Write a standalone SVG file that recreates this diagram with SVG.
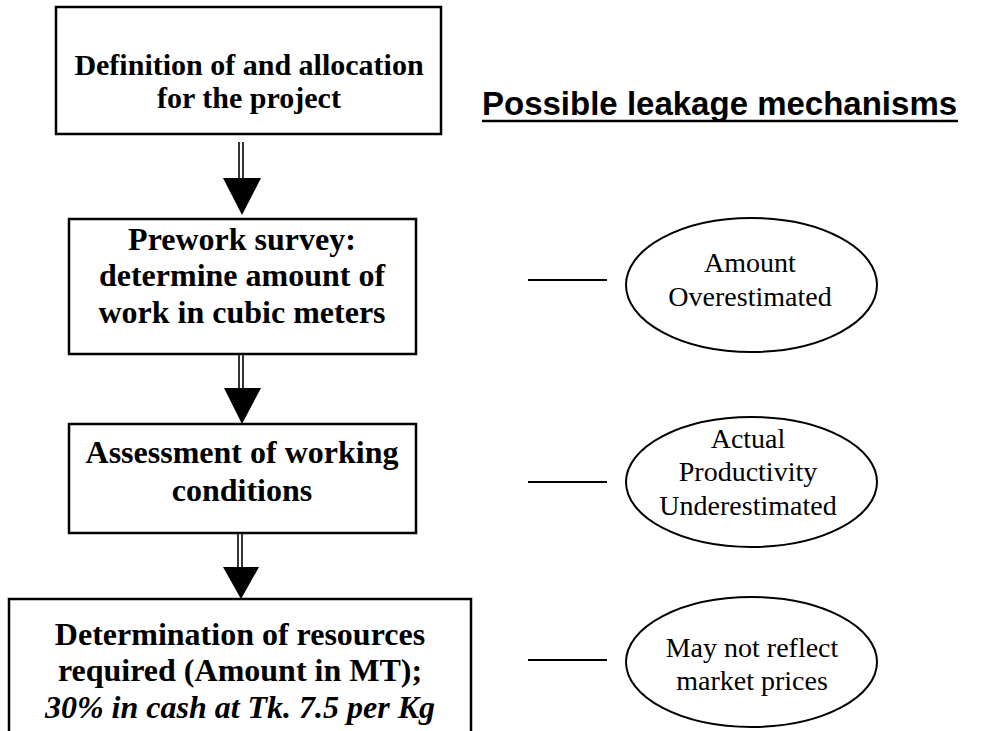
<svg xmlns="http://www.w3.org/2000/svg" width="986" height="731" viewBox="0 0 986 731">
<style>
.box{fill:#fff;stroke:#000;stroke-width:2.5}
.ell{fill:#fff;stroke:#000;stroke-width:2}
.bt{font-family:"Liberation Serif","Times New Roman",serif;font-weight:bold;font-size:32px;text-anchor:middle;fill:#000}
.et{font-family:"Liberation Serif","Times New Roman",serif;font-size:28px;text-anchor:middle;fill:#000}
.ln{stroke:#000;stroke-width:2;fill:none}
.shaft{stroke:#000;stroke-width:1.6;fill:none}
</style>
<rect width="986" height="731" fill="#fff"/>
<g id="connectors">
<line class="shaft" x1="239" y1="142" x2="239" y2="180"/>
<line class="shaft" x1="243" y1="142" x2="243" y2="180"/>
<polygon points="223,178 261,178 242,215" fill="#000"/>
<line class="shaft" x1="239" y1="346" x2="239" y2="390"/>
<line class="shaft" x1="243" y1="346" x2="243" y2="390"/>
<polygon points="224,388 261,388 242,424" fill="#000"/>
<line class="shaft" x1="238" y1="530" x2="238" y2="569"/>
<line class="shaft" x1="242" y1="530" x2="242" y2="569"/>
<polygon points="223,567 259,567 241,599" fill="#000"/>
<line class="ln" x1="528" y1="280" x2="607" y2="280"/>
<line class="ln" x1="528" y1="482" x2="607" y2="482"/>
<line class="ln" x1="528" y1="660" x2="607" y2="660"/>
</g>
<g id="n1">
<rect class="box" x="56" y="7" width="385" height="127"/>
<text class="bt" font-size="30" x="249" y="75" style="font-size:30px">Definition of and allocation</text>
<text class="bt" x="249" y="108" style="font-size:30px">for the project</text>
</g>
<g id="n2">
<rect class="box" x="69" y="219" width="347" height="135"/>
<text class="bt" x="242" y="250">Prework survey:</text>
<text class="bt" x="242" y="286">determine amount of</text>
<text class="bt" x="242" y="323">work in cubic meters</text>
</g>
<g id="n3">
<rect class="box" x="69" y="424" width="347" height="109"/>
<text class="bt" x="242" y="463">Assessment of working</text>
<text class="bt" x="242" y="501">conditions</text>
</g>
<g id="n4">
<rect class="box" x="9" y="599" width="462" height="150"/>
<text class="bt" x="240" y="645">Determination of resources</text>
<text class="bt" x="240" y="681">required (Amount in MT);</text>
<text class="bt" x="240" y="718" font-style="italic">30% in cash at Tk. 7.5 per Kg</text>
</g>
<g id="title">
<text x="482" y="115" font-family="'Liberation Sans',Arial,sans-serif" font-weight="bold" font-size="33" fill="#000">Possible leakage mechanisms</text>
<line x1="482" y1="121" x2="958" y2="121" stroke="#000" stroke-width="2.5"/>
</g>
<g id="e1">
<ellipse class="ell" cx="751.5" cy="285" rx="125.5" ry="67"/>
<text class="et" x="750" y="272">Amount</text>
<text class="et" x="750" y="306">Overestimated</text>
</g>
<g id="e2">
<ellipse class="ell" cx="751.5" cy="482" rx="125.5" ry="65"/>
<text class="et" x="748" y="448">Actual</text>
<text class="et" x="748" y="481">Productivity</text>
<text class="et" x="748" y="515">Underestimated</text>
</g>
<g id="e3">
<ellipse class="ell" cx="751.5" cy="662" rx="125.5" ry="65"/>
<text class="et" x="752" y="657">May not reflect</text>
<text class="et" x="752" y="690">market prices</text>
</g>
</svg>
